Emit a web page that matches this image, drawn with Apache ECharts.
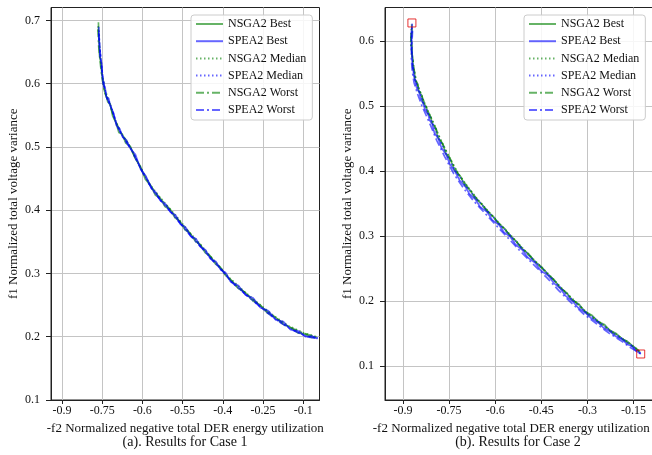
<!DOCTYPE html>
<html>
<head>
<meta charset="utf-8">
<script src="https://cdn.jsdelivr.net/npm/echarts@6/dist/echarts.min.js"></script>
<style>html,body{margin:0;padding:0;background:#fff;}#c{width:652px;height:455px;}</style>
</head>
<body>
<div id="c"></div>
<script>
// ---------- data ----------
const seriesNames = ['NSGA2 Best', 'SPEA2 Best', 'NSGA2 Median', 'SPEA2 Median', 'NSGA2 Worst', 'SPEA2 Worst'];

// tick positions and tick labels (as printed on the original)
const xTicksA = [-0.9, -0.75, -0.6, -0.45, -0.3, -0.15, 0.0];
const xLabelsA = ['-0.9', '-0.75', '-0.6', '-0.55', '-0.4', '-0.25', '-0.1'];
const xTicksB = [-0.9, -0.75, -0.6, -0.45, -0.3, -0.15];
const xLabelsB = ['-0.9', '-0.75', '-0.6', '-0.45', '-0.3', '-0.15'];
const yTicksA = [0.1, 0.2, 0.3, 0.4, 0.5, 0.6, 0.7];
const yTicksB = [0.1, 0.2, 0.3, 0.4, 0.5, 0.6];

// Case 1
const a_nsga2Best = [[-0.764,0.697],[-0.763,0.680],[-0.761,0.663],[-0.760,0.645],[-0.754,0.630],[-0.751,0.614],[-0.745,0.602],[-0.742,0.589],[-0.735,0.581],[-0.729,0.571],[-0.720,0.568],[-0.711,0.549],[-0.698,0.538],[-0.688,0.523],[-0.675,0.520],[-0.662,0.506],[-0.645,0.501],[-0.628,0.483],[-0.608,0.470],[-0.589,0.449],[-0.567,0.438],[-0.552,0.424],[-0.533,0.419],[-0.516,0.406],[-0.496,0.401],[-0.478,0.388],[-0.459,0.382],[-0.441,0.369],[-0.421,0.363],[-0.402,0.351],[-0.384,0.346],[-0.366,0.333],[-0.347,0.327],[-0.327,0.315],[-0.309,0.310],[-0.290,0.297],[-0.272,0.291],[-0.244,0.277],[-0.216,0.270],[-0.188,0.257],[-0.160,0.250],[-0.132,0.237],[-0.104,0.231],[-0.076,0.220],[-0.048,0.215],[-0.020,0.206],[0.008,0.204],[0.030,0.199],[0.050,0.199]];
const a_spea2Best = [[-0.763,0.690],[-0.762,0.674],[-0.760,0.660],[-0.758,0.643],[-0.752,0.632],[-0.750,0.614],[-0.746,0.599],[-0.739,0.593],[-0.734,0.578],[-0.726,0.577],[-0.719,0.564],[-0.708,0.554],[-0.697,0.534],[-0.685,0.529],[-0.674,0.516],[-0.660,0.511],[-0.644,0.497],[-0.626,0.488],[-0.607,0.465],[-0.587,0.454],[-0.565,0.434],[-0.550,0.428],[-0.532,0.415],[-0.514,0.410],[-0.495,0.397],[-0.476,0.392],[-0.458,0.378],[-0.439,0.373],[-0.420,0.359],[-0.400,0.355],[-0.383,0.342],[-0.364,0.337],[-0.346,0.323],[-0.326,0.319],[-0.308,0.306],[-0.289,0.301],[-0.271,0.287],[-0.242,0.281],[-0.215,0.266],[-0.186,0.261],[-0.159,0.246],[-0.130,0.241],[-0.103,0.227],[-0.074,0.224],[-0.047,0.211],[-0.018,0.209],[0.009,0.200],[0.032,0.201],[0.054,0.197]];
const a_nsga2Median = [[-0.765,0.691],[-0.761,0.666],[-0.756,0.640],[-0.749,0.612],[-0.739,0.590],[-0.726,0.574],[-0.705,0.546],[-0.681,0.523],[-0.652,0.505],[-0.615,0.474],[-0.574,0.442],[-0.539,0.423],[-0.501,0.404],[-0.464,0.386],[-0.427,0.366],[-0.389,0.349],[-0.352,0.330],[-0.314,0.312],[-0.277,0.294],[-0.221,0.272],[-0.165,0.252],[-0.109,0.233],[-0.053,0.217],[0.003,0.206],[0.048,0.200]];
const a_spea2Median = [[-0.762,0.684],[-0.759,0.657],[-0.752,0.626],[-0.744,0.598],[-0.733,0.578],[-0.716,0.563],[-0.694,0.533],[-0.671,0.515],[-0.641,0.496],[-0.604,0.464],[-0.563,0.433],[-0.529,0.414],[-0.492,0.397],[-0.455,0.378],[-0.417,0.359],[-0.380,0.342],[-0.343,0.323],[-0.305,0.306],[-0.268,0.287],[-0.212,0.266],[-0.156,0.246],[-0.100,0.227],[-0.044,0.212],[0.012,0.201],[0.055,0.198]];
const a_nsga2Worst = [[-0.766,0.686],[-0.763,0.659],[-0.757,0.632],[-0.750,0.607],[-0.740,0.585],[-0.724,0.570],[-0.703,0.543],[-0.679,0.522],[-0.650,0.503],[-0.612,0.471],[-0.572,0.440],[-0.537,0.420],[-0.500,0.403],[-0.462,0.383],[-0.425,0.365],[-0.388,0.346],[-0.350,0.329],[-0.312,0.310],[-0.275,0.291],[-0.219,0.270],[-0.163,0.250],[-0.107,0.231],[-0.051,0.215],[0.005,0.205],[0.049,0.200]];
const a_spea2Worst = [[-0.763,0.680],[-0.758,0.652],[-0.751,0.622],[-0.742,0.596],[-0.731,0.576],[-0.714,0.560],[-0.692,0.531],[-0.669,0.513],[-0.639,0.494],[-0.602,0.462],[-0.561,0.431],[-0.527,0.413],[-0.490,0.395],[-0.453,0.376],[-0.415,0.357],[-0.378,0.340],[-0.341,0.322],[-0.303,0.305],[-0.266,0.286],[-0.210,0.265],[-0.154,0.245],[-0.098,0.226],[-0.042,0.211],[0.014,0.200],[0.056,0.197]];

// Case 2
const b_nsga2Best = [[-0.872,0.626],[-0.870,0.614],[-0.874,0.603],[-0.870,0.592],[-0.872,0.580],[-0.867,0.571],[-0.869,0.560],[-0.862,0.552],[-0.862,0.541],[-0.852,0.534],[-0.849,0.523],[-0.838,0.516],[-0.836,0.506],[-0.824,0.499],[-0.820,0.489],[-0.809,0.483],[-0.807,0.475],[-0.793,0.465],[-0.787,0.452],[-0.770,0.441],[-0.761,0.427],[-0.744,0.416],[-0.732,0.401],[-0.712,0.391],[-0.699,0.378],[-0.680,0.370],[-0.667,0.359],[-0.645,0.350],[-0.628,0.339],[-0.606,0.330],[-0.589,0.319],[-0.568,0.311],[-0.553,0.301],[-0.531,0.292],[-0.514,0.281],[-0.490,0.272],[-0.472,0.261],[-0.448,0.252],[-0.429,0.241],[-0.407,0.232],[-0.390,0.221],[-0.368,0.213],[-0.351,0.202],[-0.327,0.195],[-0.309,0.184],[-0.285,0.178],[-0.267,0.169],[-0.245,0.164],[-0.228,0.155],[-0.206,0.150],[-0.188,0.142],[-0.170,0.138],[-0.156,0.132],[-0.141,0.127],[-0.129,0.121]];
const b_spea2Best = [[-0.870,0.627],[-0.873,0.612],[-0.872,0.601],[-0.873,0.588],[-0.870,0.578],[-0.870,0.567],[-0.867,0.558],[-0.865,0.547],[-0.860,0.539],[-0.856,0.529],[-0.847,0.521],[-0.842,0.511],[-0.834,0.504],[-0.828,0.494],[-0.818,0.487],[-0.813,0.478],[-0.805,0.473],[-0.798,0.459],[-0.785,0.450],[-0.775,0.436],[-0.759,0.425],[-0.748,0.411],[-0.730,0.399],[-0.716,0.386],[-0.697,0.376],[-0.684,0.365],[-0.665,0.357],[-0.649,0.345],[-0.626,0.337],[-0.610,0.325],[-0.587,0.317],[-0.572,0.306],[-0.551,0.299],[-0.534,0.287],[-0.512,0.279],[-0.494,0.267],[-0.470,0.259],[-0.452,0.247],[-0.427,0.239],[-0.410,0.228],[-0.388,0.219],[-0.371,0.208],[-0.349,0.200],[-0.331,0.190],[-0.307,0.182],[-0.289,0.174],[-0.265,0.167],[-0.248,0.159],[-0.226,0.153],[-0.209,0.146],[-0.186,0.141],[-0.172,0.134],[-0.154,0.130],[-0.143,0.124],[-0.127,0.119]];
const b_nsga2Median = [[-0.873,0.619],[-0.875,0.598],[-0.870,0.575],[-0.865,0.556],[-0.857,0.538],[-0.843,0.521],[-0.829,0.503],[-0.813,0.487],[-0.799,0.472],[-0.779,0.450],[-0.753,0.425],[-0.724,0.399],[-0.691,0.377],[-0.658,0.357],[-0.620,0.337],[-0.581,0.317],[-0.545,0.299],[-0.506,0.279],[-0.464,0.259],[-0.421,0.239],[-0.382,0.219],[-0.343,0.201],[-0.301,0.182],[-0.259,0.167],[-0.220,0.153],[-0.181,0.141],[-0.149,0.130],[-0.130,0.122]];
const b_spea2Median = [[-0.871,0.621],[-0.873,0.601],[-0.871,0.579],[-0.867,0.560],[-0.860,0.541],[-0.847,0.523],[-0.834,0.506],[-0.818,0.489],[-0.805,0.475],[-0.785,0.452],[-0.759,0.427],[-0.730,0.401],[-0.697,0.378],[-0.664,0.359],[-0.626,0.339],[-0.587,0.319],[-0.551,0.301],[-0.512,0.281],[-0.470,0.261],[-0.427,0.241],[-0.388,0.221],[-0.349,0.202],[-0.307,0.184],[-0.265,0.169],[-0.226,0.155],[-0.186,0.142],[-0.154,0.131],[-0.128,0.120]];
const b_nsga2Worst = [[-0.874,0.612],[-0.874,0.594],[-0.868,0.572],[-0.863,0.553],[-0.855,0.535],[-0.841,0.518],[-0.827,0.501],[-0.811,0.484],[-0.797,0.470],[-0.777,0.447],[-0.751,0.423],[-0.722,0.397],[-0.689,0.375],[-0.656,0.355],[-0.618,0.335],[-0.579,0.315],[-0.543,0.297],[-0.504,0.277],[-0.462,0.257],[-0.419,0.237],[-0.380,0.217],[-0.341,0.199],[-0.299,0.180],[-0.257,0.165],[-0.218,0.151],[-0.179,0.139],[-0.147,0.128],[-0.131,0.123]];
const b_spea2Worst = [[-0.869,0.616],[-0.871,0.596],[-0.873,0.574],[-0.870,0.554],[-0.864,0.536],[-0.852,0.518],[-0.839,0.501],[-0.823,0.484],[-0.810,0.470],[-0.790,0.447],[-0.764,0.422],[-0.735,0.396],[-0.702,0.373],[-0.670,0.354],[-0.631,0.334],[-0.592,0.314],[-0.556,0.296],[-0.517,0.276],[-0.475,0.256],[-0.432,0.236],[-0.393,0.216],[-0.354,0.198],[-0.312,0.180],[-0.270,0.165],[-0.231,0.151],[-0.191,0.139],[-0.159,0.128],[-0.126,0.119]];
const b_extremes = [[-0.871,0.628],[-0.1265,0.1185]];

const xName = '-f2 Normalized negative total DER energy utilization';
const yName = 'f1 Normalized total voltage variance';
const subTitles = ['(a). Results for Case 1', '(b). Results for Case 2'];

// ---------- styling ----------
const FONT = '"Liberation Serif", "Times New Roman", serif';
const GREEN = 'rgba(0,128,0,0.6)';
const BLUE = 'rgba(0,0,255,0.6)';
const DOT = [1.5, 2.5];
const DASHDOT = [8, 3, 2, 3];
const styles = [
  {color: GREEN, type: 'solid'}, {color: BLUE, type: 'solid'},
  {color: GREEN, type: DOT}, {color: BLUE, type: DOT},
  {color: GREEN, type: DASHDOT}, {color: BLUE, type: DASHDOT}
];
const dataA = [a_nsga2Best, a_spea2Best, a_nsga2Median, a_spea2Median, a_nsga2Worst, a_spea2Worst];
const dataB = [b_nsga2Best, b_spea2Best, b_nsga2Median, b_spea2Median, b_nsga2Worst, b_spea2Worst];

function labelFor(ticks, labels) {
  return function (v) {
    for (let i = 0; i < ticks.length; i++) if (Math.abs(v - ticks[i]) < 1e-6) return labels[i];
    return '';
  };
}

const gridLine = {show: true, lineStyle: {color: '#c4c4c4', width: 1}};
const axisLineStyle = {color: '#222', width: 1};
const labelStyle = {color: '#111', fontFamily: FONT, fontSize: 12};

function xAxis(gi, min, max, ticks, labels, namePad) {
  return {
    gridIndex: gi, type: 'value', min: min, max: max,
    name: xName, nameLocation: 'middle', nameGap: 21,
    nameTextStyle: {color: '#111', fontFamily: FONT, fontSize: 13, padding: namePad},
    axisLine: {onZero: false, lineStyle: axisLineStyle},
    axisTick: {show: true, length: 4, customValues: ticks, lineStyle: axisLineStyle},
    axisLabel: Object.assign({customValues: ticks, margin: 5, formatter: labelFor(ticks, labels)}, labelStyle),
    splitLine: gridLine
  };
}
function yAxis(gi, min, max, ticks) {
  return {
    gridIndex: gi, type: 'value', min: min, max: max,
    name: yName, nameLocation: 'middle', nameGap: 31,
    nameTextStyle: {color: '#111', fontFamily: FONT, fontSize: 13},
    axisLine: {onZero: false, lineStyle: axisLineStyle},
    axisTick: {show: true, length: 5, customValues: ticks, lineStyle: axisLineStyle},
    axisLabel: Object.assign({customValues: ticks, margin: 11, formatter: function (v) { return v.toFixed(1); }}, labelStyle),
    splitLine: gridLine
  };
}

const series = [];
[dataA, dataB].forEach(function (set, gi) {
  set.forEach(function (d, i) {
    series.push({
      name: seriesNames[i], type: 'line', xAxisIndex: gi, yAxisIndex: gi,
      data: d, symbol: 'none', showSymbol: false, smooth: false,
      lineStyle: {color: styles[i].color, type: styles[i].type, width: 1.7},
      itemStyle: {color: styles[i].color},
      z: 2 + (i % 2)
    });
  });
});
series.push({
  name: 'extremes', type: 'scatter', xAxisIndex: 1, yAxisIndex: 1,
  data: b_extremes, symbol: 'rect', symbolSize: 8,
  itemStyle: {color: 'rgba(255,255,255,0)', borderColor: '#e00000', borderWidth: 1},
  z: 5
});

function legend(left) {
  return {
    data: seriesNames, orient: 'vertical', left: left, top: 15,
    itemWidth: 27, itemHeight: 12, itemGap: 5.2,
    padding: [3, 6, 4, 4],
    backgroundColor: 'rgba(255,255,255,0.85)', borderColor: '#cccccc', borderWidth: 1, borderRadius: 3,
    itemStyle: {opacity: 0, borderWidth: 0},
    textStyle: {color: '#111', fontFamily: FONT, fontSize: 12, lineHeight: 12},
    selectedMode: false
  };
}

const option = {
  animation: false,
  backgroundColor: '#fff',
  grid: [
    {left: 51, top: 7.5, width: 268.5, height: 392.5, show: true, borderColor: '#222', borderWidth: 1, backgroundColor: 'transparent', outerBoundsMode: 'none', containLabel: false},
    {left: 385, top: 7.5, width: 268.5, height: 392.5, show: true, borderColor: '#222', borderWidth: 1, backgroundColor: 'transparent', outerBoundsMode: 'none', containLabel: false}
  ],
  xAxis: [xAxis(0, -0.941, 0.061, xTicksA, xLabelsA, [0, 0, 0, 0]), xAxis(1, -0.9586, -0.0849, xTicksB, xLabelsB, [0, 16, 0, 0])],
  yAxis: [yAxis(0, 0.1, 0.7204, yTicksA), yAxis(1, 0.0477, 0.6518, yTicksB)],
  legend: [legend(191), legend(524)],
  graphic: [
    {type: 'text', x: 185, y: 442, style: {text: subTitles[0], align: 'center', verticalAlign: 'middle', textAlign: 'center', textVerticalAlign: 'middle', font: '14px ' + FONT, fill: '#111'}},
    {type: 'text', x: 518, y: 442, style: {text: subTitles[1], align: 'center', verticalAlign: 'middle', textAlign: 'center', textVerticalAlign: 'middle', font: '14px ' + FONT, fill: '#111'}}
  ],
  series: series
};

const chart = echarts.init(document.getElementById('c'), null, {renderer: 'canvas'});
chart.setOption(option);
</script>
</body>
</html>
